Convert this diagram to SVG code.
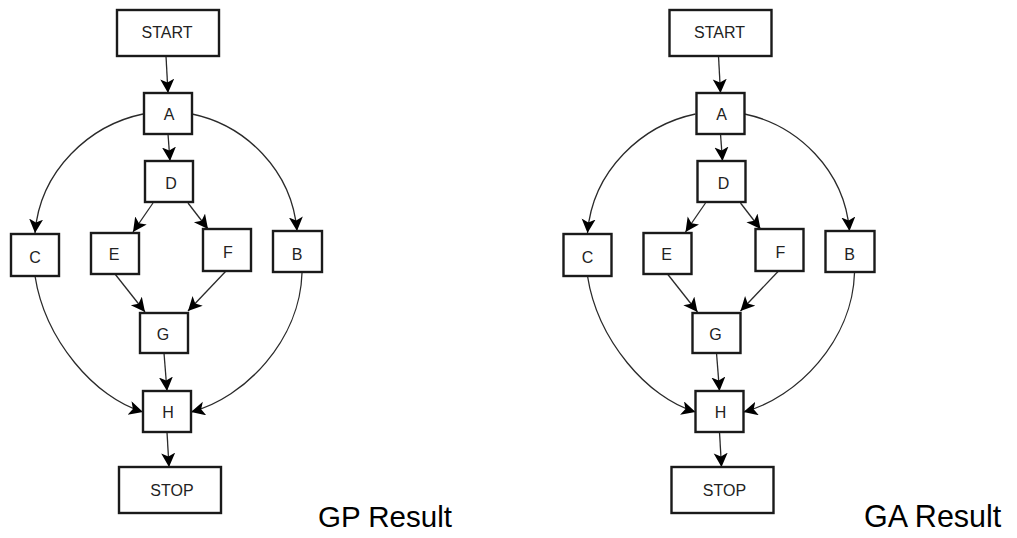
<svg xmlns="http://www.w3.org/2000/svg" width="1017" height="538" viewBox="0 0 1017 538">
  <style>
    .box { fill: #ffffff; stroke: #1a1a1a; stroke-width: 2.4; }
    .lbl { font-family: "Liberation Sans", Arial, sans-serif; font-size: 16px; fill: #222; text-anchor: middle; }
    .edge { fill: none; stroke: #2a2a2a; stroke-width: 1.3; marker-end: url(#arrow); }
    .caption { font-family: "Liberation Sans", Arial, sans-serif; font-size: 29.5px; fill: #000; }
  </style>
  <defs>
    <marker id="arrow" markerUnits="userSpaceOnUse" markerWidth="16" markerHeight="16" refX="14" refY="7" orient="auto">
      <path d="M0,0 L14,7 L0,14 L3.5,7 Z" fill="#000"/>
    </marker>
  </defs>
  <rect width="1017" height="538" fill="#ffffff"/>

  <!-- left flow graph -->
  <g id="gp">
    <g id="gp-edges">
      <path class="edge" d="M166,56 L168,93"/>
      <path class="edge" d="M168,134 L170,161"/>
      <path class="edge" d="M143,114 C90,125 40,170 35,233"/>
      <path class="edge" d="M192,114 C245,125 292,170 297,231"/>
      <path class="edge" d="M153,203 L133,232"/>
      <path class="edge" d="M188,203 L208,229"/>
      <path class="edge" d="M115,274 L145,312"/>
      <path class="edge" d="M226,271 L188,311"/>
      <path class="edge" d="M35,276 C45,340 95,398 143,412"/>
      <path class="edge" d="M302,273 C300,340 245,398 191,412"/>
      <path class="edge" d="M164,353 L167,391"/>
      <path class="edge" d="M167,432 L169,467"/>
    </g>
    <g id="gp-start"><rect class="box" x="117" y="10" width="102" height="46"/><text class="lbl" x="167" y="37.5">START</text></g>
    <g id="gp-a"><rect class="box" x="144" y="93" width="48" height="41"/><text class="lbl" x="169" y="119.5">A</text></g>
    <g id="gp-d"><rect class="box" x="145" y="161" width="48" height="41"/><text class="lbl" x="171" y="188.5">D</text></g>
    <g id="gp-c"><rect class="box" x="11" y="234" width="48" height="42"/><text class="lbl" x="35" y="262.5">C</text></g>
    <g id="gp-e"><rect class="box" x="91" y="233" width="48" height="41"/><text class="lbl" x="114" y="259.5">E</text></g>
    <g id="gp-f"><rect class="box" x="203" y="229" width="48" height="42"/><text class="lbl" x="228" y="257.5">F</text></g>
    <g id="gp-b"><rect class="box" x="273" y="231" width="49" height="41"/><text class="lbl" x="297" y="259.5">B</text></g>
    <g id="gp-g"><rect class="box" x="140" y="313" width="48" height="40"/><text class="lbl" x="163" y="339.5">G</text></g>
    <g id="gp-h"><rect class="box" x="143" y="391" width="48" height="41"/><text class="lbl" x="168" y="417.5">H</text></g>
    <g id="gp-stop"><rect class="box" x="119" y="467" width="102" height="46"/><text class="lbl" x="172" y="495.5">STOP</text></g>
  </g>
  <text id="gp-caption" class="caption" x="318" y="527">GP Result</text>

  <!-- right flow graph: same layout, shifted -->
  <g id="ga" transform="translate(552.5,0)">
    <g id="ga-edges">
      <path class="edge" d="M166,56 L168,93"/>
      <path class="edge" d="M168,134 L170,161"/>
      <path class="edge" d="M143,114 C90,125 40,170 35,233"/>
      <path class="edge" d="M192,114 C245,125 292,170 297,231"/>
      <path class="edge" d="M153,203 L133,232"/>
      <path class="edge" d="M188,203 L208,229"/>
      <path class="edge" d="M115,274 L145,312"/>
      <path class="edge" d="M226,271 L188,311"/>
      <path class="edge" d="M35,276 C45,340 95,398 143,412"/>
      <path class="edge" d="M302,273 C300,340 245,398 191,412"/>
      <path class="edge" d="M164,353 L167,391"/>
      <path class="edge" d="M167,432 L169,467"/>
    </g>
    <g id="ga-start"><rect class="box" x="117" y="10" width="102" height="46"/><text class="lbl" x="167" y="37.5">START</text></g>
    <g id="ga-a"><rect class="box" x="144" y="93" width="48" height="41"/><text class="lbl" x="169" y="119.5">A</text></g>
    <g id="ga-d"><rect class="box" x="145" y="161" width="48" height="41"/><text class="lbl" x="171" y="188.5">D</text></g>
    <g id="ga-c"><rect class="box" x="11" y="234" width="48" height="42"/><text class="lbl" x="35" y="262.5">C</text></g>
    <g id="ga-e"><rect class="box" x="91" y="233" width="48" height="41"/><text class="lbl" x="114" y="259.5">E</text></g>
    <g id="ga-f"><rect class="box" x="203" y="229" width="48" height="42"/><text class="lbl" x="228" y="257.5">F</text></g>
    <g id="ga-b"><rect class="box" x="273" y="231" width="49" height="41"/><text class="lbl" x="297" y="259.5">B</text></g>
    <g id="ga-g"><rect class="box" x="140" y="313" width="48" height="40"/><text class="lbl" x="163" y="339.5">G</text></g>
    <g id="ga-h"><rect class="box" x="143" y="391" width="48" height="41"/><text class="lbl" x="168" y="417.5">H</text></g>
    <g id="ga-stop"><rect class="box" x="119" y="467" width="102" height="46"/><text class="lbl" x="172" y="495.5">STOP</text></g>
  </g>
  <text id="ga-caption" class="caption" x="864" y="527" style="font-size:30.5px">GA Result</text>
</svg>
